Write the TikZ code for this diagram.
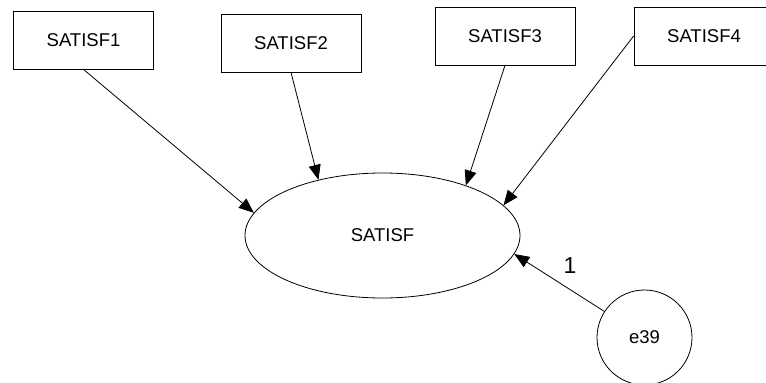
\documentclass[tikz,border=0pt]{standalone}
\usepackage{fontspec}
\setmainfont{Liberation Sans}
\usetikzlibrary{arrows.meta,shapes.geometric}
\begin{document}
\begin{tikzpicture}[x=1pt,y=-1pt,
  every node/.style={line width=0.8pt},
  observed/.style={draw, rectangle, minimum width=140pt, minimum height=58pt, inner sep=0pt,
    font=\fontsize{18.5}{20}\selectfont},
  latent/.style={draw, ellipse, minimum width=275pt, minimum height=125pt, inner sep=0pt,
    font=\fontsize{18.5}{20}\selectfont},
  errvar/.style={draw, circle, minimum size=95pt, inner sep=0pt,
    font=\fontsize{18.5}{20}\selectfont},
  path/.style={line width=0.8pt, -{Triangle[length=15pt,width=12pt]}},
  weight/.style={font=\fontsize{23}{25}\selectfont, inner sep=0pt}]
\useasboundingbox (0,0) rectangle (766,383);

% indicators
\node[observed] (s1) at (83.5,40) {\raisebox{-3pt}{SATISF1}};
\node[observed] (s2) at (291,43) {\raisebox{-3pt}{SATISF2}};
\node[observed] (s3) at (505,36) {\raisebox{-3pt}{SATISF3}};
\node[observed] (s4) at (704,36) {\raisebox{-3pt}{SATISF4}};

% latent factor and its error term
\node[latent] (sat) at (382.5,235.5) {SATISF};
\node[errvar] (e39) at (644.5,337.5) {e39};

% paths
\draw[path] (s1.south) -- (sat.170);
\draw[path] (s2.south) -- (sat.139);
\draw[path] (s3.south) -- (sat.31.5);
\draw[path] (s4.west) -- (sat.14);
\draw[path] (e39.147) -- (sat.-8.4);

\node[weight] (w1) at (570,266) {1};
\end{tikzpicture}
\end{document}
